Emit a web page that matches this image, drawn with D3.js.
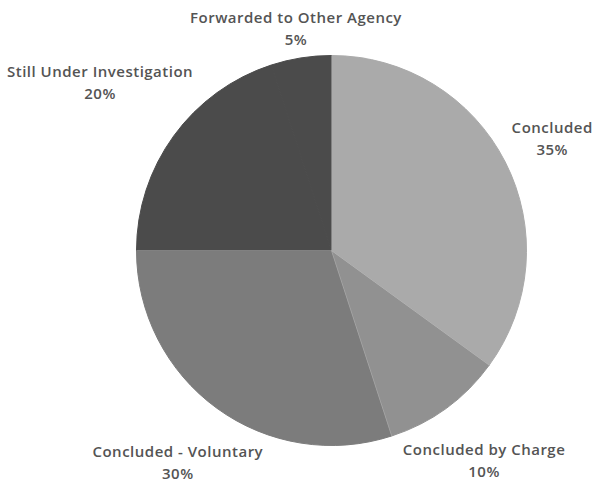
<!DOCTYPE html>
<html>
<head>
<meta charset="utf-8">
<script src="https://cdn.jsdelivr.net/npm/d3@7/dist/d3.min.js"></script>
<style>
  html, body { margin: 0; padding: 0; background: #ffffff; }
  svg { display: block; }
  text { font-family: "Open Sans", "Noto Sans", sans-serif; font-weight: 600; fill: #545454; font-size: 15px; letter-spacing: 0.5px; }
</style>
</head>
<body>
<svg id="chart" width="597" height="483"></svg>
<script>
const categories = ["Concluded", "Concluded by Charge", "Concluded - Voluntary", "Still Under Investigation", "Forwarded to Other Agency"];
const values = [35, 10, 30, 20, 5];
const colors = ["#aaaaaa", "#919191", "#7c7c7c", "#4b4b4b", "#4b4b4b"];

const W = 597, H = 483;
const cx = 331.5, cy = 250.5, R = 195, labelGap = 7;

const svg = d3.select("#chart");
const g = svg.append("g").attr("transform", `translate(${cx},${cy})`);

const data = categories.map((c, i) => ({ name: c, value: values[i], color: colors[i] }));
const pie = d3.pie().value(d => d.value).sort(null);
const arcs = pie(data);
const arc = d3.arc().innerRadius(0).outerRadius(R);

g.selectAll("path.slice").data(arcs).enter().append("path")
  .attr("class", "slice")
  .attr("d", arc)
  .attr("fill", d => d.data.color)
  .attr("stroke", d => d.data.color)
  .attr("stroke-width", 1)
  .attr("stroke-linejoin", "round");

// subtle light separators where adjacent colours differ
arcs.forEach((a, i) => {
  const prev = arcs[(i - 1 + arcs.length) % arcs.length];
  if (prev.data.color !== a.data.color) {
    const ang = a.startAngle;
    g.append("line")
      .attr("x1", 0).attr("y1", 0)
      .attr("x2", R * Math.sin(ang)).attr("y2", -R * Math.cos(ang))
      .attr("stroke", "#ffffff").attr("stroke-opacity", 0.3).attr("stroke-width", 1);
  }
});

// labels
const lineGap = 22;
arcs.forEach(a => {
  const mid = (a.startAngle + a.endAngle) / 2;
  const lg = g.append("g");
  lg.append("text").attr("text-anchor", "middle").attr("x", 0).attr("y", 0).text(a.data.name);
  lg.append("text").attr("text-anchor", "middle").attr("x", 0).attr("y", lineGap)
    .text(Math.round(a.data.value / d3.sum(values) * 100) + "%");
  const bb = lg.node().getBBox();
  const ux = Math.sin(mid), uy = -Math.cos(mid);
  const ox = bb.x + bb.width / 2, oy = bb.y + bb.height / 2;
  function nearest(d) {
    const bx = d * ux, by = d * uy;
    const x0 = bx - bb.width / 2, x1 = bx + bb.width / 2;
    const y0 = by - bb.height / 2, y1 = by + bb.height / 2;
    const nx = Math.max(x0, Math.min(0, x1));
    const ny = Math.max(y0, Math.min(0, y1));
    return Math.hypot(nx, ny);
  }
  let lo = 0, hi = 600;
  for (let k = 0; k < 60; k++) {
    const m = (lo + hi) / 2;
    if (nearest(m) < R + labelGap) lo = m; else hi = m;
  }
  const d = (lo + hi) / 2;
  lg.attr("transform", `translate(${d * ux - ox},${d * uy - oy})`);
});
</script>
</body>
</html>
